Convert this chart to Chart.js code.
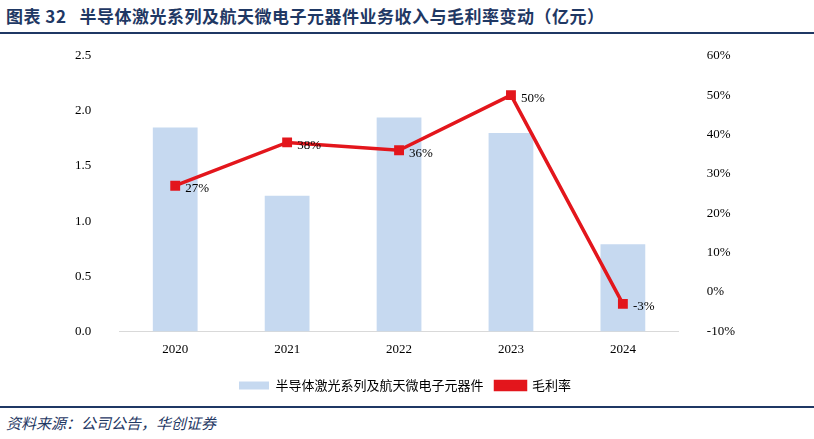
<!DOCTYPE html>
<html><head><meta charset="utf-8">
<script src="https://cdn.jsdelivr.net/npm/chart.js@4"></script>
<style>
body{margin:0;width:814px;height:439px;background:#fff;font-family:"Noto Sans CJK SC",sans-serif;position:relative;overflow:hidden}
#title{position:absolute;left:6px;top:3px;font-size:17px;font-weight:bold;color:#1f3864;letter-spacing:0.5px}
#l1{position:absolute;left:0;top:32px;width:814px;height:2px;background:#1f3864}
#l2{position:absolute;left:0;top:406px;width:814px;height:2px;background:#1f3864}
#src{position:absolute;left:6px;top:412px;font-size:15px;font-style:italic;color:#1f3864}
#wrap{position:absolute;left:55px;top:28px;width:700px;height:374px}
</style></head><body>
<div id="title">图表 32&nbsp;&nbsp;&nbsp;半导体激光系列及航天微电子元器件业务收入与毛利率变动（亿元）</div>
<div id="l1"></div>
<div id="wrap"><canvas id="c"></canvas></div>
<div id="l2"></div>
<div id="src">资料来源：公司公告，华创证券</div>
<script>
const categories=['2020','2021','2022','2023','2024'];
const revenue=[1.85,1.23,1.94,1.80,0.79];
const margin=[27,38,36,50,-3];
const labelPlugin={id:'lbl',afterDatasetsDraw(ch){const m=ch.getDatasetMeta(1);const c=ch.ctx;c.save();c.font='13px "Liberation Serif"';c.fillStyle='#000';c.textBaseline='middle';m.data.forEach((p,i)=>{c.fillText(margin[i]+'%',p.x+10,p.y+3);});c.restore();}};
new Chart(document.getElementById('c'),{
data:{labels:categories,datasets:[
{type:'bar',label:'半导体激光系列及航天微电子元器件',data:revenue,backgroundColor:'#c6d9f0',yAxisID:'y',barPercentage:0.4,categoryPercentage:1,order:2},
{type:'line',label:'毛利率',data:margin,borderColor:'#e3161c',backgroundColor:'#e3161c',borderWidth:3.5,pointStyle:'rect',pointRadius:4.5,yAxisID:'y1',order:1}
]},
options:{responsive:true,maintainAspectRatio:false,animation:false,
layout:{padding:{top:8,right:0}},
plugins:{legend:{position:'bottom',labels:{sort:(a,b)=>a.datasetIndex-b.datasetIndex,boxWidth:30,boxHeight:8,font:{size:13,family:'"Noto Sans CJK SC"'},color:'#000',padding:12}},tooltip:{enabled:false}},
scales:{
x:{grid:{display:false,drawTicks:false},border:{color:'#d9d9d9'},ticks:{font:{size:13,family:'"Liberation Serif"'},color:'#000',padding:10}},
y:{min:0,max:2.5,ticks:{stepSize:0.5,callback:v=>v.toFixed(1),font:{size:13,family:'"Liberation Serif"'},color:'#000',padding:20},grid:{display:false},border:{display:false}},
y1:{position:'right',min:-10,max:60,ticks:{stepSize:10,callback:v=>v+'%',font:{size:13,family:'"Liberation Serif"'},color:'#000',padding:20},grid:{display:false},border:{display:false}}
}},
plugins:[labelPlugin]});
</script></body></html>
